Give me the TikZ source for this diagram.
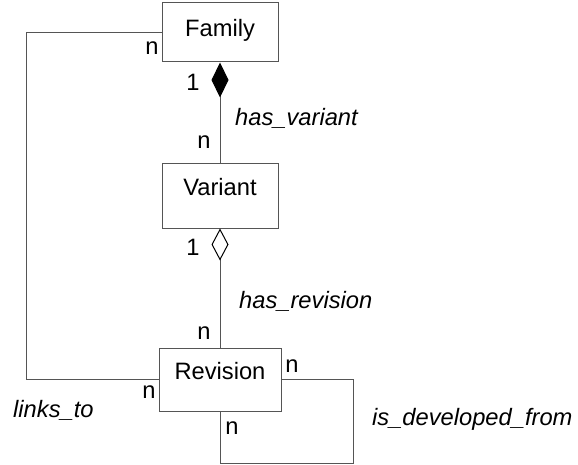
\documentclass[tikz,border=0pt]{standalone}
\usepackage{fontspec}
\setmainfont{Liberation Sans}
\usetikzlibrary{arrows.meta}
\definecolor{linegray}{RGB}{85,85,85}
\newcommand{\etext}[2][0pt]{\raisebox{#1}[0pt][0pt]{#2}}
\begin{document}
\begin{tikzpicture}[x=1pt,y=-1pt,
  font=\fontsize{23.7pt}{28pt}\selectfont,
  entity/.style={draw=linegray, line width=1pt, inner sep=0pt},
  conn/.style={draw=linegray, line width=1pt},
  mult/.style={inner sep=0pt, anchor=center},
  rel/.style={inner sep=0pt, anchor=base west, font=\fontsize{23.7pt}{28pt}\selectfont\itshape}]
\useasboundingbox (0,0) rectangle (578,465);
% entities
\node[entity, minimum width=116pt, minimum height=59.5pt] (family) at (220,32.25) {\etext[-4pt]{Family}};
\node[entity, minimum width=116pt, minimum height=64pt] (variant) at (220,196) {\etext{Variant}};
\node[entity, minimum width=122pt, minimum height=63pt] (revision) at (220,379.5) {\etext{Revision}};
% connectors
\draw[conn, {Diamond[length=35pt,width=17pt,color=black,fill=black]}-] (family.south) -- (variant.north);
\draw[conn, {Diamond[open,length=32pt,width=17pt,color=black]}-] (variant.south) -- (revision.north);
\draw[conn] (family.west) -- ++(-135,0) coordinate (lk) |- (revision.west);
\coordinate (loopc) at (353,463);
\draw[conn] (revision.east) -| (loopc) -| (revision.south);
% multiplicities
\node[mult] (m1) at (152,48) {n};
\node[mult] (m2) at (193,82) {1};
\node[mult] (m3) at (204,142) {n};
\node[mult] (m4) at (193,247) {1};
\node[mult] (m5) at (204,333) {n};
\node[mult] (m6) at (292,366) {n};
\node[mult] (m7) at (149,392) {n};
\node[mult] (m8) at (232,428) {n};
% relationship names
\node[rel] (r1) at (235,126) {has\_variant};
\node[rel] (r2) at (239,308) {has\_revision};
\node[rel] (r3) at (13,417) {links\_to};
\node[rel] (r4) at (372,425) {is\_developed\_from};
\end{tikzpicture}
\end{document}
